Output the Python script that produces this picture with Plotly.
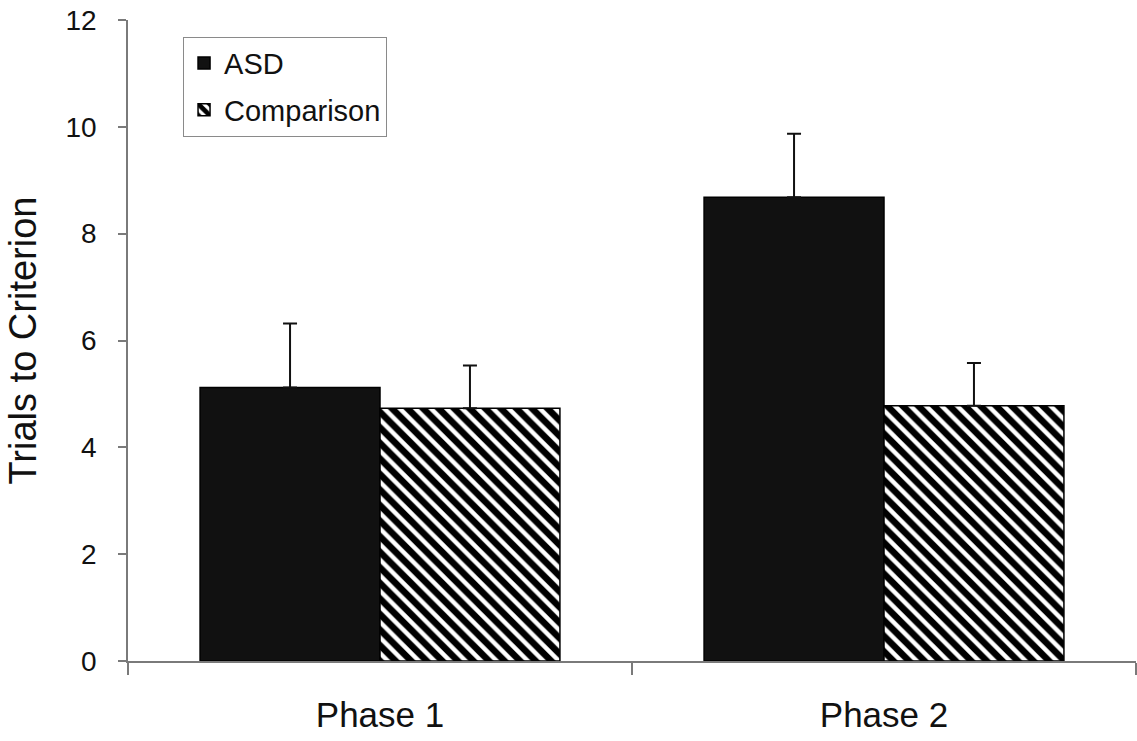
import plotly.graph_objects as go

categories = ["Phase 1", "Phase 2"]
asd_values = [5.12, 8.68]
asd_err_plus = [1.20, 1.19]
comp_values = [4.73, 4.78]
comp_err_plus = [0.80, 0.80]
y_ticks = [0, 2, 4, 6, 8, 10, 12]

FONT = "Liberation Sans, Arial, sans-serif"

fig = go.Figure()
fig.add_trace(go.Bar(
    name="ASD", x=categories, y=asd_values,
    marker=dict(color="#111111", line=dict(color="#000000", width=1.5)),
    error_y=dict(type="data", array=asd_err_plus, arrayminus=[0, 0], symmetric=False,
                 color="#111111", thickness=2, width=7),
    legendgroup="a",
))
fig.add_trace(go.Bar(
    name="Comparison", x=categories, y=comp_values,
    marker=dict(color="#ffffff", line=dict(color="#000000", width=1.5),
                pattern=dict(shape="\\", size=11, solidity=0.6, fgcolor="#000000",
                             bgcolor="#ffffff", fgopacity=1)),
    error_y=dict(type="data", array=comp_err_plus, arrayminus=[0, 0], symmetric=False,
                 color="#111111", thickness=2, width=7),
    legendgroup="b",
))

fig.update_layout(
    width=1137, height=741,
    margin=dict(l=128, r=1, t=20, b=80, autoexpand=False),
    paper_bgcolor="white", plot_bgcolor="white",
    barmode="group", bargap=0.286, bargroupgap=0,
    font=dict(family=FONT, color="#111111"),
    showlegend=True,
    legend=dict(
        x=0.0546, y=0.974, xanchor="left", yanchor="top",
        bordercolor="#8a8a8a", borderwidth=1, bgcolor="white",
        font=dict(size=29, family=FONT, color="#111111"),
        tracegroupgap=6, itemwidth=30,
    ),
)
fig.update_xaxes(
    range=[-0.5, 1.5], showline=True, linecolor="#7a7a7a", linewidth=1.5,
    ticks="outside", tickson="boundaries", ticklen=12, tickcolor="#7a7a7a", tickwidth=1.5,
    tickfont=dict(size=35, family=FONT, color="#111111"), ticklabelstandoff=22,
    showgrid=False, zeroline=False, automargin=False,
)
fig.update_yaxes(
    range=[0, 12], tickvals=y_ticks, showline=True, linecolor="#7a7a7a", linewidth=1.5,
    ticks="outside", ticklen=8, tickcolor="#7a7a7a", tickwidth=1.5,
    tickfont=dict(size=28, family=FONT, color="#111111"), ticklabelstandoff=16,
    showgrid=False, zeroline=False, automargin=False,
    title=dict(text="Trials to Criterion", font=dict(size=38, family=FONT, color="#111111"), standoff=17),
)

fig.write_html(
    "out.html",
    config={"displayModeBar": False},
    post_script="document.body.style.margin='0';document.body.style.overflow='hidden';",
)
